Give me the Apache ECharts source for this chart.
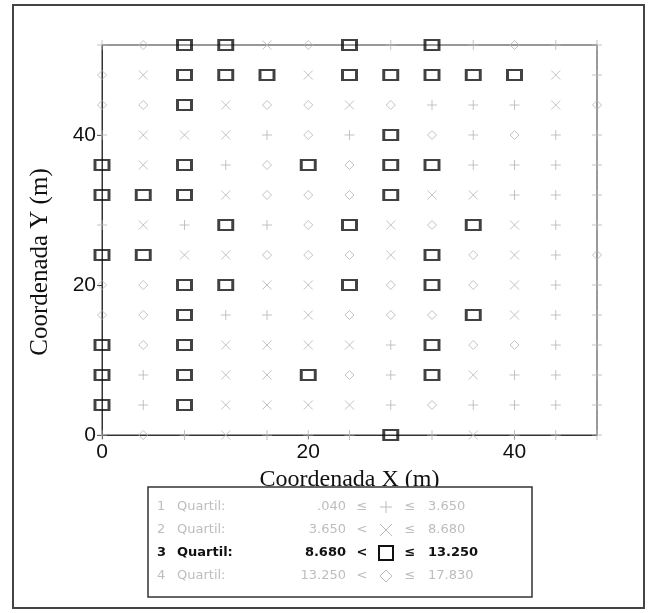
<!DOCTYPE html>
<html>
<head>
<meta charset="utf-8">
<script src="https://cdn.jsdelivr.net/npm/echarts@6/dist/echarts.min.js"></script>
<style>
  html, body { margin: 0; padding: 0; background: #fff; }
  #chart { width: 648px; height: 613px; }
</style>
</head>
<body>
<div id="chart"></div>
<script>
// Sampling grid coordinates (m)
const xCoords = [0, 4, 8, 12, 16, 20, 24, 28, 32, 36, 40, 44, 48];
const yCoords = [52, 48, 44, 40, 36, 32, 28, 24, 20, 16, 12, 8, 4, 0];

// Quartile class of each sample, one row per yCoords entry, one column per xCoords entry
const quartileRows = [
  [1, 4, 3, 3, 2, 4, 3, 1, 3, 1, 4, 1, 1],
  [4, 2, 3, 3, 3, 2, 3, 3, 3, 3, 3, 2, 1],
  [4, 4, 3, 2, 4, 4, 2, 4, 1, 1, 1, 2, 4],
  [1, 2, 2, 2, 1, 4, 1, 3, 4, 1, 4, 1, 1],
  [3, 2, 3, 1, 4, 3, 4, 3, 3, 1, 1, 1, 1],
  [3, 3, 3, 2, 4, 4, 4, 3, 2, 2, 1, 1, 1],
  [1, 2, 1, 3, 1, 4, 3, 2, 4, 3, 2, 1, 1],
  [3, 3, 2, 2, 4, 4, 4, 2, 3, 4, 2, 1, 4],
  [4, 4, 3, 3, 2, 2, 3, 4, 3, 4, 2, 1, 1],
  [4, 4, 3, 1, 1, 2, 4, 4, 4, 3, 2, 1, 1],
  [3, 4, 3, 2, 2, 2, 2, 1, 3, 4, 4, 1, 1],
  [3, 1, 3, 2, 2, 3, 4, 1, 3, 2, 1, 1, 1],
  [3, 1, 3, 2, 2, 2, 2, 1, 4, 1, 1, 1, 1],
  [1, 4, 1, 2, 1, 1, 1, 3, 1, 2, 1, 1, 1]
];

// Class limits and legend labels
const quartileLimits = ['.040', '3.650', '8.680', '13.250', '17.830'];
const quartileNames = ['1 Quartil:', '2 Quartil:', '3 Quartil:', '4 Quartil:'];
const xTickValues = [0, 20, 40];
const yTickValues = [0, 20, 40];

const PLUS = 'path://M5,0L5,10M0,5L10,5';
const CROSS = 'path://M0,0L10,10M10,0L0,10';
const faint = '#b4b4b4';
const serif = '"Liberation Serif", "Times New Roman", serif';

const classStyles = {
  1: { symbol: PLUS, size: 10, color: faint, width: 1 },
  2: { symbol: CROSS, size: 9, color: faint, width: 1 },
  3: { symbol: 'rect', size: [14, 10], color: '#111', width: 2.5 },
  4: { symbol: 'diamond', size: 9, color: faint, width: 1 }
};

function pointsOf(k) {
  const pts = [];
  quartileRows.forEach((row, r) => {
    row.forEach((q, c) => { if (q === k) pts.push([xCoords[c], yCoords[r]]); });
  });
  return pts;
}

const series = [1, 2, 4, 3].map(k => ({
  type: 'scatter',
  name: quartileNames[k - 1],
  data: pointsOf(k),
  symbol: classStyles[k].symbol,
  symbolSize: classStyles[k].size,
  z: k === 3 ? 5 : 3,
  itemStyle: {
    color: 'rgba(0,0,0,0)',
    borderColor: classStyles[k].color,
    borderWidth: classStyles[k].width
  },
  emphasis: { disabled: true }
}));

// Legend box drawn with graphic elements
const legX = 148, legY = 487, legW = 384, legH = 110;
const rowY = [507, 530, 553, 576];
const legend = [];
legend.push({
  type: 'rect', shape: { x: legX, y: legY, width: legW, height: legH },
  style: { fill: '#fff', stroke: '#333', lineWidth: 1.5 }, z: 10
});
function seg(x1, y1, x2, y2, col) {
  legend.push({ type: 'line', z: 11, shape: { x1: x1, y1: y1, x2: x2, y2: y2 }, style: { stroke: col, lineWidth: 1 } });
}
rowY.forEach((y, i) => {
  const strong = i === 2;
  const col = strong ? '#111' : '#bdbdbd';
  const font = (strong ? 'bold ' : '') + '13px "DejaVu Sans", Verdana, sans-serif';
  const t = (x, text, align) => legend.push({
    type: 'text', x: x, y: y, z: 11,
    style: { text: text, fill: col, font: font, align: align, verticalAlign: 'middle' }
  });
  const parts = quartileNames[i].split(' ');
  t(157, parts[0], 'left');
  t(177, parts[1], 'left');
  t(346, quartileLimits[i], 'right');
  t(362, i === 0 ? '≤' : '<', 'center');
  t(410, '≤', 'center');
  t(428, quartileLimits[i + 1], 'left');
  const cx = 386;
  if (i === 0) {
    seg(cx, y - 6, cx, y + 6, col); seg(cx - 6, y, cx + 6, y, col);
  } else if (i === 1) {
    seg(cx - 6, y - 6, cx + 6, y + 6, col); seg(cx + 6, y - 6, cx - 6, y + 6, col);
  } else if (i === 2) {
    legend.push({ type: 'rect', z: 11, shape: { x: cx - 7, y: y - 7, width: 14, height: 14 }, style: { stroke: col, lineWidth: 2, fill: 'rgba(0,0,0,0)' } });
  } else {
    legend.push({ type: 'polygon', z: 11, shape: { points: [[cx, y - 6], [cx + 6, y], [cx, y + 6], [cx - 6, y]] }, style: { stroke: col, lineWidth: 1, fill: 'rgba(0,0,0,0)' } });
  }
});

const chart = echarts.init(document.getElementById('chart'), null, { renderer: 'canvas' });
chart.setOption({
  animation: false,
  backgroundColor: '#fff',
  grid: {
    left: 102, right: 51, top: 45, bottom: 178,
    show: true, borderColor: '#333', borderWidth: 1, backgroundColor: 'transparent'
  },
  xAxis: {
    type: 'value', min: 0, max: 48,
    name: 'Coordenada X (m)', nameLocation: 'middle', nameGap: 20,
    nameTextStyle: { fontFamily: serif, fontSize: 24, color: '#111' },
    axisLine: { show: true, onZero: false, lineStyle: { color: '#333', width: 1 } },
    axisTick: { show: true, length: 4, inside: false, customValues: xTickValues, lineStyle: { color: '#333' } },
    axisLabel: { customValues: xTickValues, margin: 7, fontFamily: '"Liberation Sans", Arial, sans-serif', fontSize: 21, color: '#111' },
    splitLine: { show: false }
  },
  yAxis: {
    type: 'value', min: 0, max: 52,
    axisLine: { show: true, onZero: false, lineStyle: { color: '#333', width: 1 } },
    axisTick: { show: true, length: 5, inside: false, customValues: yTickValues, lineStyle: { color: '#333' } },
    axisLabel: { customValues: yTickValues, margin: 6, fontFamily: '"Liberation Sans", Arial, sans-serif', fontSize: 21, color: '#111' },
    splitLine: { show: false }
  },
  series: series,
  graphic: [
    { type: 'rect', shape: { x: 13, y: 5, width: 631, height: 603 }, style: { fill: 'rgba(0,0,0,0)', stroke: '#444', lineWidth: 2 }, z: 0, silent: true },
    // Y axis title, set a little below the plot centre
    { type: 'text', x: 40, y: 262, rotation: Math.PI / 2, z: 10,
      style: { text: 'Coordenada Y (m)', font: '25px ' + serif, fill: '#111', align: 'center', verticalAlign: 'middle' } }
  ].concat(legend)
});
</script>
</body>
</html>
